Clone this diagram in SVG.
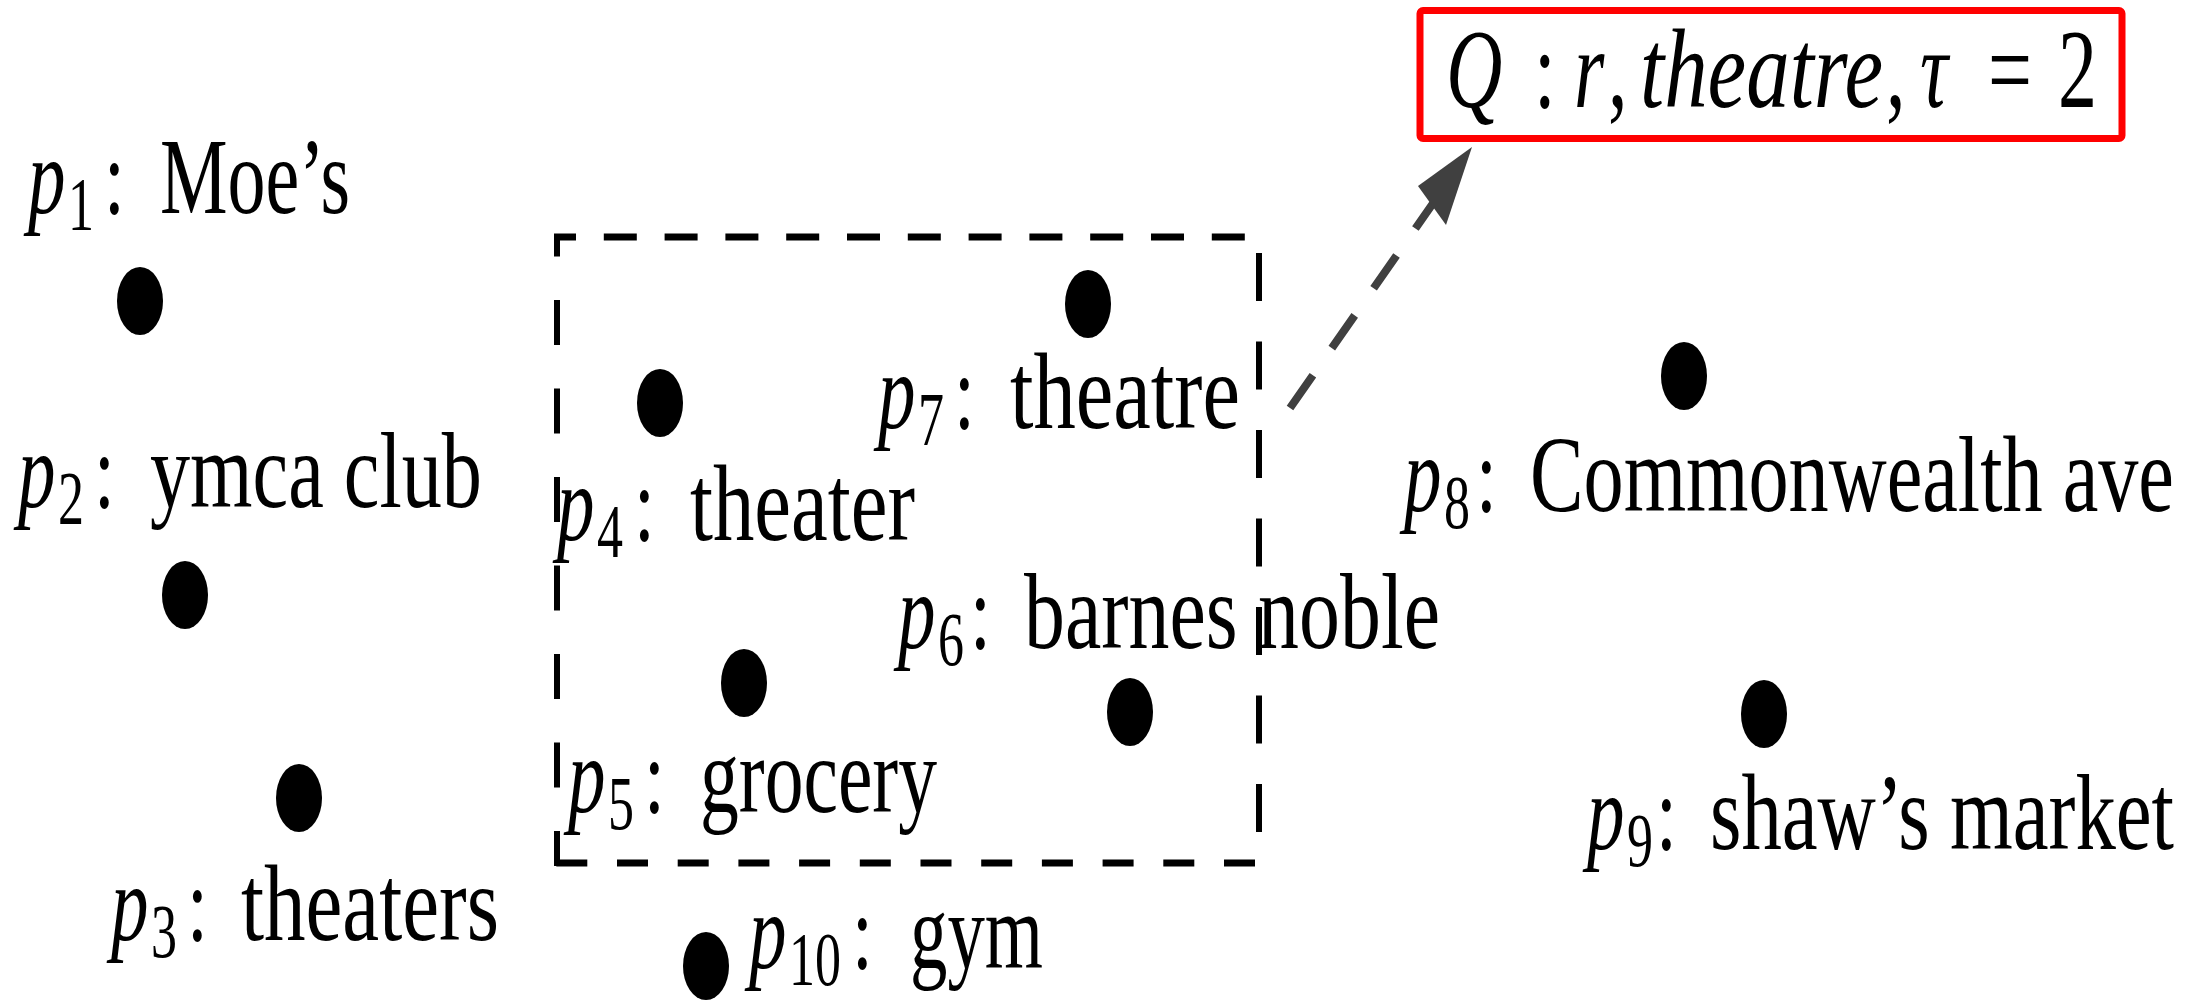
<svg xmlns="http://www.w3.org/2000/svg" width="2202" height="1005" viewBox="0 0 2202 1005">
  <defs>
    <style>
      .dot { fill: #000; }
      .t { font-family: "Liberation Serif", "Times New Roman", serif; font-size: 75px; fill: #000; }
      .it { font-style: italic; }
      .sub { font-size: 52px; }
      .qt { font-family: "Liberation Serif", "Times New Roman", serif; font-size: 78px; fill: #000; }
      .range { stroke: #000; fill: none; }
      .range-h { stroke-width: 7; }
      .range-v { stroke-width: 6; }
      .link { stroke: #404040; stroke-width: 8; fill: none; stroke-dasharray: 40 33; }
      .head { fill: #404040; }
      .qbox { fill: #fff; stroke: #ff0000; stroke-width: 7; }
    </style>
  </defs>

  <rect width="2202" height="1005" fill="#fff"/>

  <!-- dashed query range -->
  <g id="range" class="range">
    <line class="range-h" x1="554" y1="237" x2="1261" y2="237" stroke-dasharray="33 27.8" stroke-dashoffset="11"/>
    <line class="range-h" x1="554" y1="863" x2="1261" y2="863" stroke-dasharray="31 29.7" stroke-dashoffset="58.4"/>
    <line class="range-v" x1="557" y1="234" x2="557" y2="866" stroke-dasharray="45 43.5" stroke-dashoffset="22.5"/>
    <line class="range-v" x1="1259" y1="234" x2="1259" y2="866" stroke-dasharray="48 40.5" stroke-dashoffset="69.5"/>
  </g>

  <!-- query box -->
  <g id="query">
    <rect class="qbox" x="1420" y="10.5" width="702" height="128" rx="3"/>
    <g transform="translate(0,107) scale(1,1.45)">
      <text class="qt it" x="1446" y="0">Q</text>
      <text class="qt" x="1534" y="0">:</text>
      <text class="qt it" x="1574" y="0">r</text>
      <text class="qt" x="1608" y="0">,</text>
      <text class="qt it" x="1640" y="0" textLength="243" lengthAdjust="spacingAndGlyphs">theatre</text>
      <text class="qt" x="1886" y="0">,</text>
      <text class="qt it" x="1920" y="0">τ</text>
      <text class="qt" x="1988" y="0">=</text>
      <text class="qt" x="2058" y="0">2</text>
    </g>
  </g>

  <!-- connector from the matching point to the query -->
  <g id="connectors">
    <line class="link" x1="1290" y1="408" x2="1436" y2="199"/>
    <polygon class="head" points="1472,147 1418,186 1446,225"/>
  </g>

  <!-- points -->
  <g id="node-p1">
    <ellipse class="dot" cx="140" cy="301" rx="23" ry="34"/>
    <g transform="translate(0,213) scale(1,1.45)">
      <text class="t it" x="28" y="0">p</text>
      <text class="t sub" x="68" y="12">1</text>
      <text class="t" x="104" y="0">:</text>
      <text class="t" x="160" y="0" textLength="190" lengthAdjust="spacingAndGlyphs">Moe’s</text>
    </g>
  </g>

  <g id="node-p2">
    <ellipse class="dot" cx="185" cy="595" rx="23" ry="34"/>
    <g transform="translate(0,507) scale(1,1.45)">
      <text class="t it" x="18" y="0">p</text>
      <text class="t sub" x="58" y="12">2</text>
      <text class="t" x="94" y="0">:</text>
      <text class="t" x="150" y="0" textLength="332" lengthAdjust="spacingAndGlyphs">ymca club</text>
    </g>
  </g>

  <g id="node-p3">
    <ellipse class="dot" cx="299" cy="798" rx="23" ry="34"/>
    <g transform="translate(0,940) scale(1,1.45)">
      <text class="t it" x="111" y="0">p</text>
      <text class="t sub" x="151" y="12">3</text>
      <text class="t" x="187" y="0">:</text>
      <text class="t" x="241" y="0" textLength="258" lengthAdjust="spacingAndGlyphs">theaters</text>
    </g>
  </g>

  <g id="node-p4">
    <ellipse class="dot" cx="660" cy="403" rx="23" ry="34"/>
    <g transform="translate(0,540) scale(1,1.45)">
      <text class="t it" x="557" y="0">p</text>
      <text class="t sub" x="597" y="12">4</text>
      <text class="t" x="634" y="0">:</text>
      <text class="t" x="690" y="0" textLength="225" lengthAdjust="spacingAndGlyphs">theater</text>
    </g>
  </g>

  <g id="node-p5">
    <ellipse class="dot" cx="744" cy="683" rx="23" ry="34"/>
    <g transform="translate(0,812) scale(1,1.45)">
      <text class="t it" x="568" y="0">p</text>
      <text class="t sub" x="608" y="12">5</text>
      <text class="t" x="644" y="0">:</text>
      <text class="t" x="700" y="0" textLength="237" lengthAdjust="spacingAndGlyphs">grocery</text>
    </g>
  </g>

  <g id="node-p6">
    <ellipse class="dot" cx="1130" cy="712" rx="23" ry="34"/>
    <g transform="translate(0,648) scale(1,1.45)">
      <text class="t it" x="898" y="0">p</text>
      <text class="t sub" x="938" y="12">6</text>
      <text class="t" x="970" y="0">:</text>
      <text class="t" x="1024" y="0" textLength="416" lengthAdjust="spacingAndGlyphs">barnes noble</text>
    </g>
  </g>

  <g id="node-p7">
    <ellipse class="dot" cx="1088" cy="304" rx="23" ry="34"/>
    <g transform="translate(0,428) scale(1,1.45)">
      <text class="t it" x="878" y="0">p</text>
      <text class="t sub" x="918" y="12">7</text>
      <text class="t" x="954" y="0">:</text>
      <text class="t" x="1010" y="0" textLength="230" lengthAdjust="spacingAndGlyphs">theatre</text>
    </g>
  </g>

  <g id="node-p8">
    <ellipse class="dot" cx="1684" cy="376" rx="23" ry="34"/>
    <g transform="translate(0,511) scale(1,1.45)">
      <text class="t it" x="1404" y="0">p</text>
      <text class="t sub" x="1444" y="12">8</text>
      <text class="t" x="1476" y="0">:</text>
      <text class="t" x="1530" y="0" textLength="644" lengthAdjust="spacingAndGlyphs">Commonwealth ave</text>
    </g>
  </g>

  <g id="node-p9">
    <ellipse class="dot" cx="1764" cy="714" rx="23" ry="34"/>
    <g transform="translate(0,849) scale(1,1.45)">
      <text class="t it" x="1587" y="0">p</text>
      <text class="t sub" x="1627" y="12">9</text>
      <text class="t" x="1656" y="0">:</text>
      <text class="t" x="1710" y="0" textLength="464" lengthAdjust="spacingAndGlyphs">shaw’s market</text>
    </g>
  </g>

  <g id="node-p10">
    <ellipse class="dot" cx="706" cy="966" rx="23" ry="34"/>
    <g transform="translate(0,968) scale(1,1.45)">
      <text class="t it" x="749" y="0">p</text>
      <text class="t sub" x="789" y="12">10</text>
      <text class="t" x="852" y="0">:</text>
      <text class="t" x="910" y="0" textLength="133" lengthAdjust="spacingAndGlyphs">gym</text>
    </g>
  </g>
</svg>
